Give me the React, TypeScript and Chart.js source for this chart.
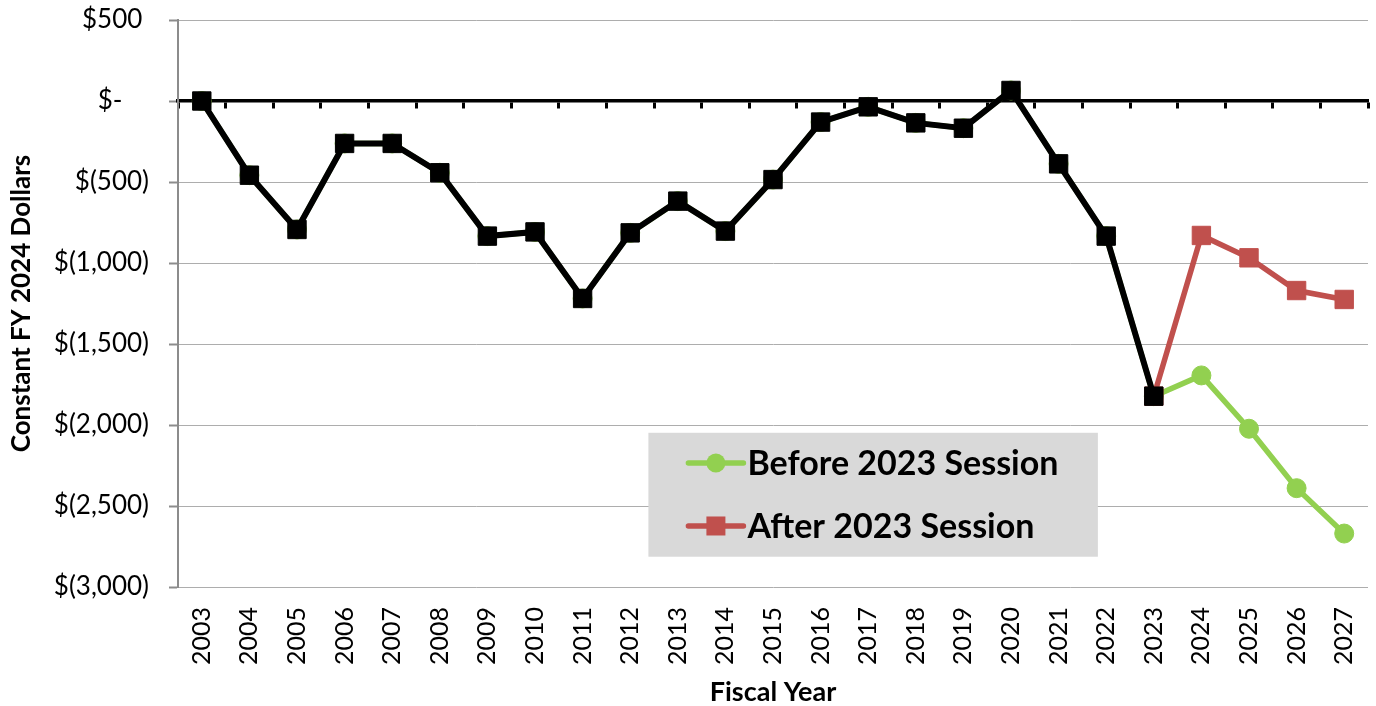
import React, { useEffect, useRef } from 'react';
import { Chart, registerables } from 'chart.js';

Chart.register(...registerables);

const fiscalYears = [
  '2003', '2004', '2005', '2006', '2007', '2008', '2009', '2010', '2011', '2012',
  '2013', '2014', '2015', '2016', '2017', '2018', '2019', '2020', '2021', '2022',
  '2023', '2024', '2025', '2026', '2027',
];

const historical = [
  0, -458, -793, -262, -262, -443, -834, -808, -1219, -814,
  -618, -803, -485, -130, -36, -135, -168, 65, -388, -834,
  -1822, null, null, null, null,
];

const beforeSession = [
  0, -458, -793, -262, -262, -443, -834, -808, -1219, -814,
  -618, -803, -485, -130, -36, -135, -168, 65, -388, -834,
  -1822, -1694, -2023, -2390, -2670,
];

const afterSession = [
  null, null, null, null, null, null, null, null, null, null,
  null, null, null, null, null, null, null, null, null, null,
  -1822, -830, -968, -1170, -1225,
];

const yTickValues = [500, 0, -500, -1000, -1500, -2000, -2500, -3000];
const yTickLabels = ['$500 ', '$-    ', '$(500)', '$(1,000)', '$(1,500)', '$(2,000)', '$(2,500)', '$(3,000)'];

const beforeLabel = 'Before 2023 Session';
const afterLabel = 'After 2023 Session';
const historyLabel = 'Historical';
const yTitle = 'Constant FY 2024 Dollars';
const xTitle = 'Fiscal Year';

const GREEN = '#92D050';
const RED = '#C0504D';
const FONT = 'Lato';

const zeroPadding = (s: any) => {
  s.paddingTop = 0;
  s.paddingBottom = 0;
  s.paddingLeft = 0;
  s.paddingRight = 0;
};

const boxLegend = {
  id: 'boxLegend',
  afterDatasetsDraw(chart: any) {
    const { ctx, chartArea: a } = chart;
    const w = a.right - a.left;
    const h = a.bottom - a.top;
    const left = a.left + 0.3953 * w;
    const right = a.left + 0.773 * w;
    const top = a.top + 0.728 * h;
    const bottom = a.top + 0.9466 * h;
    ctx.save();
    ctx.fillStyle = '#D9D9D9';
    ctx.fillRect(left, top, right - left, bottom - top);
    const rows = [0, 1];
    const rowFrac = [0.244, 0.752];
    rows.forEach((dsIndex, i) => {
      const ds = chart.data.datasets[dsIndex];
      const y = top + rowFrac[i] * (bottom - top);
      const x1 = left + 40;
      const x2 = left + 95;
      const cx = (x1 + x2) / 2;
      ctx.strokeStyle = ds.borderColor;
      ctx.lineWidth = 5.5;
      ctx.lineCap = 'round';
      ctx.beginPath();
      ctx.moveTo(x1, y);
      ctx.lineTo(x2, y);
      ctx.stroke();
      ctx.fillStyle = ds.pointBackgroundColor;
      if (ds.pointStyle === 'circle') {
        ctx.beginPath();
        ctx.arc(cx, y, 9.5, 0, Math.PI * 2);
        ctx.fill();
      } else {
        ctx.fillRect(cx - 9.5, y - 9.5, 19, 19);
      }
      ctx.fillStyle = '#000';
      ctx.font = `bold 34px ${FONT}`;
      ctx.textBaseline = 'middle';
      ctx.textAlign = 'left';
      ctx.fillText(ds.label, left + 99, y + 1);
    });
    ctx.restore();
  },
};

export default function App() {
  const ref = useRef<HTMLCanvasElement | null>(null);

  useEffect(() => {
    if (!ref.current) return;
    const chart = new Chart(ref.current, {
      type: 'line',
      data: {
        labels: fiscalYears,
        datasets: [
          {
            label: beforeLabel,
            data: beforeSession,
            borderColor: GREEN,
            backgroundColor: GREEN,
            pointBackgroundColor: GREEN,
            pointBorderColor: GREEN,
            pointStyle: 'circle',
            pointRadius: 9.5,
            pointBorderWidth: 1,
            borderWidth: 5.5,
            tension: 0,
            order: 2,
          },
          {
            label: afterLabel,
            data: afterSession,
            borderColor: RED,
            backgroundColor: RED,
            pointBackgroundColor: RED,
            pointBorderColor: RED,
            pointStyle: 'rect',
            pointRadius: 13,
            pointBorderWidth: 1,
            borderWidth: 5.5,
            tension: 0,
            order: 1,
          },
          {
            label: historyLabel,
            data: historical,
            borderColor: '#000',
            backgroundColor: '#000',
            pointBackgroundColor: '#000',
            pointBorderColor: '#000',
            pointStyle: 'rect',
            pointRadius: 13,
            pointBorderWidth: 1,
            borderWidth: 6,
            tension: 0,
            order: 0,
          },
        ],
      },
      options: {
        responsive: false,
        animation: false,
        devicePixelRatio: 1,
        layout: { autoPadding: false, padding: { left: 0, top: 20, right: 8, bottom: 0 } },
        plugins: {
          legend: { display: false },
          tooltip: { enabled: false },
        },
        scales: {
          x: {
            type: 'category',
            position: 'bottom',
            offset: true,
            grid: { display: false, drawTicks: false },
            border: { display: false },
            ticks: {
              color: '#000',
              font: { family: FONT, size: 25 },
              minRotation: 90,
              maxRotation: 90,
              padding: 20,
              autoSkip: false,
            },
            title: {
              display: true,
              text: xTitle,
              color: '#000',
              font: { family: FONT, size: 27, weight: 'bold', lineHeight: 1 },
              padding: { top: 0, bottom: 0 },
            },
            afterFit: (s: any) => {
              s.height = 119;
              zeroPadding(s);
            },
          },
          x2: {
            type: 'category',
            labels: fiscalYears,
            position: { y: 0 } as any,
            offset: true,
            grid: {
              display: true,
              drawOnChartArea: false,
              drawTicks: true,
              tickLength: 6,
              tickWidth: 3,
              tickColor: '#000',
              offset: true,
            },
            border: { display: true, color: '#000', width: 3.5 },
            ticks: { display: false },
            afterFit: (s: any) => {
              zeroPadding(s);
            },
          },
          y: {
            type: 'linear',
            position: 'left',
            min: -3000,
            max: 500,
            afterBuildTicks: (s: any) => {
              s.ticks = yTickValues.map((v) => ({ value: v }));
            },
            grid: {
              color: '#ADADAD',
              lineWidth: 1,
              drawTicks: true,
              tickLength: 9,
              tickColor: '#8C8C8C',
              tickWidth: 2,
            },
            border: { display: true, color: '#8C8C8C', width: 2 },
            ticks: {
              color: '#000',
              font: { family: FONT, size: 26 },
              padding: 20,
              callback: (v: any) => {
                const i = yTickValues.indexOf(Number(v));
                return i >= 0 ? yTickLabels[i] : '';
              },
            },
            title: {
              display: true,
              text: yTitle,
              color: '#000',
              font: { family: FONT, size: 26, weight: 'bold', lineHeight: 1 },
              padding: { top: 9, bottom: 0 },
            },
            afterFit: (s: any) => {
              s.width = 178;
              zeroPadding(s);
            },
          },
        },
      },
      plugins: [boxLegend],
    });
    return () => chart.destroy();
  }, []);

  return (
    <div style={{ position: 'fixed', left: 0, top: 0, width: 1376, height: 706, background: '#fff' }}>
      <canvas ref={ref} width={1376} height={706} />
    </div>
  );
}
